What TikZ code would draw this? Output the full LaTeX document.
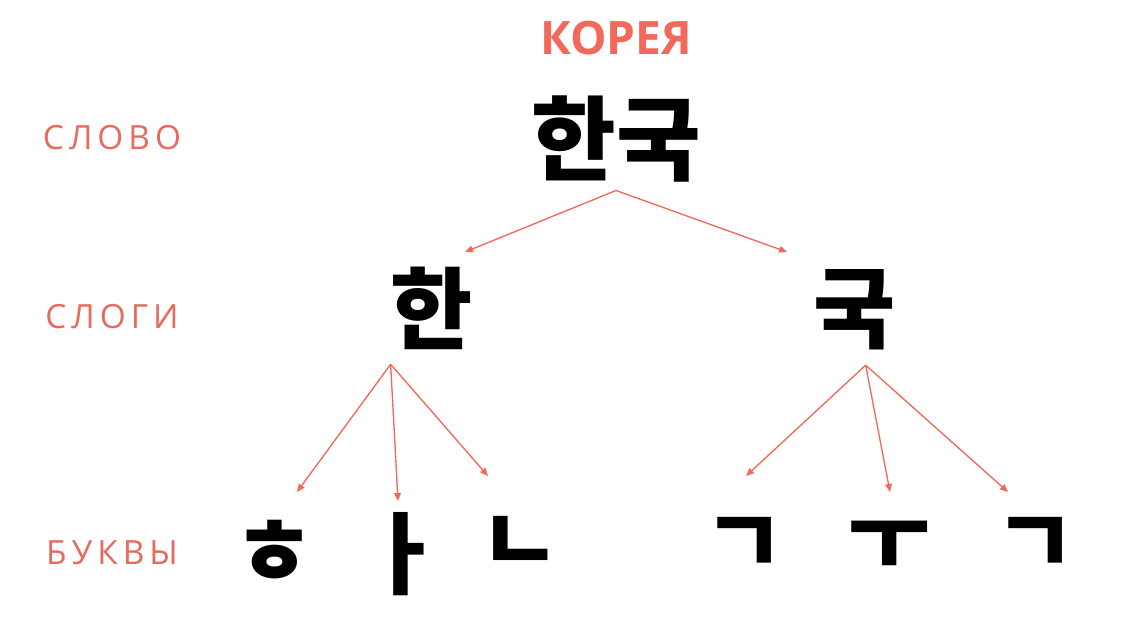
\documentclass[tikz,border=0pt]{standalone}
\usepackage{fontspec}
\setmainfont{Open Sans}
\newfontfamily\korfont{Noto Sans CJK KR}
\newfontfamily\levelfont{Open Sans}[LetterSpace=15]
\usetikzlibrary{arrows.meta}
\definecolor{salmon}{HTML}{F0695A}
\definecolor{levelred}{HTML}{E66A5E}

\tikzset{
  level/.style={font=\levelfont\fontsize{25}{25}\selectfont, text=levelred, inner sep=0pt},
  syll/.style={font=\korfont\bfseries\fontsize{67}{67}\selectfont, inner sep=0pt},
  link/.style={draw=salmon, line width=1pt, -{Triangle[length=6pt,width=5pt]}}
}

\begin{document}
\begin{tikzpicture}[x=0.75pt,y=-0.75pt]
  \useasboundingbox[fill=white] (0,0) rectangle (1140,641);
  \node[font=\bfseries\fontsize{34.5}{34.5}\selectfont, text=salmon, inner sep=0pt] (title) at (616,38) {КОРЕЯ};

  % levels
  \node[level] (lword)   at (112,138) {СЛОВО};
  \node[level] (lsyll)   at (112,317) {СЛОГИ};
  \node[level] (lletter) at (112,553) {БУКВЫ};

  % word and syllables
  \node[syll, font=\korfont\bfseries\fontsize{69}{69}\selectfont] (word) at (616,139) {한국};
  \node[syll] (han) at (432,308) {한};
  \node[syll] (guk) at (855,310) {국};

  % letters
  \node[syll] (hieut) at (275,553) {ㅎ};
  \node[syll] (a)     at (404,554) {ㅏ};
  \node[syll] (nieun) at (521,545) {ㄴ};
  \node[syll] (giyeok1) at (745,546) {ㄱ};
  \node[syll] (u)       at (890,545) {ㅜ};
  \node[syll] (giyeok2) at (1036,546) {ㄱ};

  % arrow tips
  \coordinate (to-han) at (465,252);
  \coordinate (to-guk) at (787,252);
  \coordinate (to-hieut) at (297,492);
  \coordinate (to-a) at (398,501);
  \coordinate (to-nieun) at (488,476);
  \coordinate (to-giyeok1) at (746,476);
  \coordinate (to-u) at (890,492);
  \coordinate (to-giyeok2) at (1008,492);

  \draw[link] ([yshift=-6pt]word.south) -- (to-han);
  \draw[link] ([yshift=-6pt]word.south) -- (to-guk);
  \foreach \t in {hieut,a,nieun}
    \draw[link] ([yshift=-11pt]han.south west) -- (to-\t);
  \foreach \t in {giyeok1,u,giyeok2}
    \draw[link] ([shift={(8pt,-11pt)}]guk.south) -- (to-\t);
\end{tikzpicture}
\end{document}
